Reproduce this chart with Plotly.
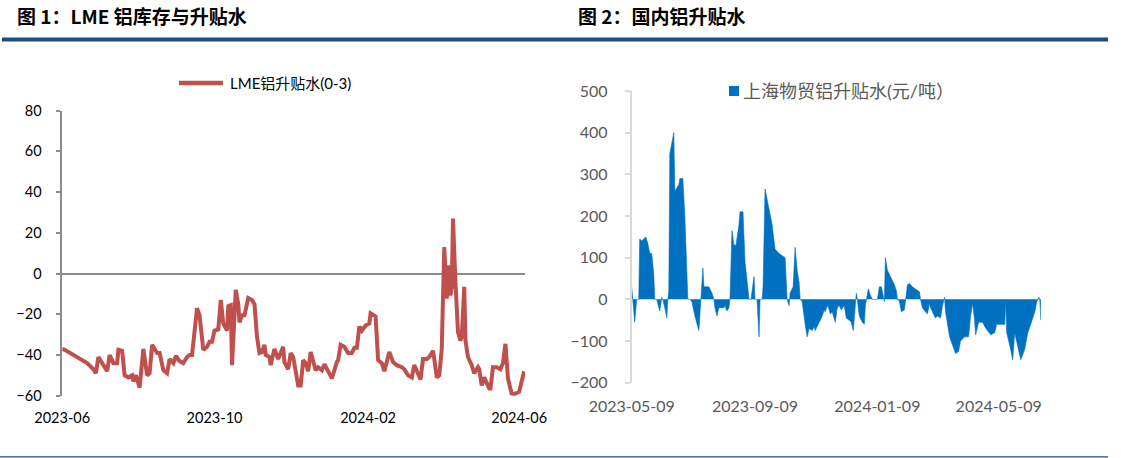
import plotly.graph_objects as go

W, H = 1121, 458

# ---------------- data: LME aluminium premium / discount (0-3) ----------------
lme_dates = [
    "2023-06-01", "2023-06-03", "2023-06-21", "2023-06-23", "2023-06-26", "2023-06-28", "2023-06-30",
    "2023-07-03", "2023-07-07", "2023-07-09", "2023-07-12", "2023-07-15", "2023-07-16", "2023-07-19",
    "2023-07-21", "2023-07-24", "2023-07-27", "2023-07-28", "2023-07-30",
    "2023-08-02", "2023-08-05", "2023-08-08", "2023-08-10", "2023-08-12", "2023-08-14", "2023-08-16",
    "2023-08-18", "2023-08-21", "2023-08-24", "2023-08-26", "2023-08-29", "2023-08-31",
    "2023-09-03", "2023-09-06", "2023-09-09", "2023-09-11", "2023-09-13", "2023-09-17", "2023-09-19",
    "2023-09-22", "2023-09-25", "2023-09-27", "2023-09-29",
    "2023-10-01", "2023-10-04", "2023-10-06", "2023-10-08", "2023-10-11", "2023-10-12", "2023-10-14",
    "2023-10-15", "2023-10-17", "2023-10-18", "2023-10-20", "2023-10-21", "2023-10-23", "2023-10-25",
    "2023-10-28", "2023-10-31",
    "2023-11-02", "2023-11-04", "2023-11-06", "2023-11-08", "2023-11-10", "2023-11-11", "2023-11-14",
    "2023-11-15", "2023-11-18", "2023-11-21", "2023-11-25", "2023-11-26", "2023-11-29",
    "2023-12-01", "2023-12-03", "2023-12-05", "2023-12-07", "2023-12-09", "2023-12-11", "2023-12-13",
    "2023-12-15", "2023-12-17", "2023-12-19", "2023-12-21", "2023-12-23", "2023-12-26", "2023-12-28",
    "2023-12-31",
    "2024-01-03", "2024-01-07", "2024-01-08", "2024-01-10", "2024-01-13", "2024-01-16", "2024-01-19",
    "2024-01-21", "2024-01-23", "2024-01-25", "2024-01-27", "2024-01-30",
    "2024-02-02", "2024-02-03", "2024-02-06", "2024-02-07", "2024-02-09", "2024-02-12", "2024-02-14",
    "2024-02-18", "2024-02-21", "2024-02-24", "2024-02-28",
    "2024-03-01", "2024-03-04", "2024-03-07", "2024-03-09", "2024-03-12", "2024-03-14", "2024-03-16",
    "2024-03-19", "2024-03-21", "2024-03-24", "2024-03-25", "2024-03-27", "2024-03-29", "2024-03-31",
    "2024-04-02", "2024-04-04", "2024-04-06", "2024-04-07", "2024-04-08", "2024-04-09", "2024-04-11",
    "2024-04-13", "2024-04-15", "2024-04-16", "2024-04-18", "2024-04-19", "2024-04-21", "2024-04-24",
    "2024-04-26", "2024-04-29", "2024-04-30",
    "2024-05-02", "2024-05-04", "2024-05-06", "2024-05-08", "2024-05-09", "2024-05-11", "2024-05-14",
    "2024-05-17", "2024-05-19", "2024-05-21", "2024-05-23", "2024-05-26", "2024-05-28",
    "2024-06-01", "2024-06-05",
]
lme_values = [
    -37, -37.5, -44, -45, -47, -49, -41,
    -44, -48, -40, -44, -44, -37.5, -38,
    -50, -51, -50, -53, -50,
    -56, -37, -50, -49, -35, -37, -39,
    -39, -47.5, -49, -42, -44, -40.5,
    -43, -44, -41, -40, -40, -17, -20.5,
    -37.5, -36, -33.5, -33.5,
    -28, -27.5, -13, -24.5, -28, -16, -15.5,
    -45, -18, -8, -15, -24, -20.5, -20.5,
    -12, -13,
    -15, -31, -39, -38.5, -35, -40, -41,
    -45, -37, -42, -36, -43.5, -47,
    -39, -41, -49, -55, -55, -42.5, -44,
    -48, -38.5, -42.5, -47.5, -46, -47.5, -44.5,
    -48,
    -51.5, -43.5, -42.5, -35, -36, -39, -39,
    -36.5, -36.5, -26, -28, -25.5,
    -24.5, -19.5, -21, -21, -42.5, -44, -48,
    -38.5, -43.5, -45, -46,
    -47, -50, -51, -45, -49, -52, -42,
    -42, -41, -38, -42, -51, -50, -37,
    13, -12.3, 4, -10.7, -6.5, 27, -5,
    -28.7, -33, -31, -6.5, -33, -41, -45,
    -49, -46, -47,
    -55, -51, -53.5, -56.5, -56.5, -46, -46,
    -47, -44, -34.5, -51.5, -59, -59.3,
    -58, -48,
]

# ---------------- data: Shanghai Wumao aluminium premium / discount ----------------
sh_dates = [
    "2023-05-09", "2023-05-12", "2023-05-14", "2023-05-16", "2023-05-17", "2023-05-19", "2023-05-21",
    "2023-05-23", "2023-05-25", "2023-05-27", "2023-05-29", "2023-05-31",
    "2023-06-01", "2023-06-03", "2023-06-05", "2023-06-06", "2023-06-08", "2023-06-09", "2023-06-11",
    "2023-06-13", "2023-06-14", "2023-06-15", "2023-06-16", "2023-06-20", "2023-06-21", "2023-06-25",
    "2023-06-26", "2023-06-29",
    "2023-07-01", "2023-07-04", "2023-07-06", "2023-07-08", "2023-07-11", "2023-07-15", "2023-07-17",
    "2023-07-19", "2023-07-20", "2023-07-25", "2023-07-28", "2023-07-30", "2023-07-31",
    "2023-08-02", "2023-08-04", "2023-08-09", "2023-08-10", "2023-08-12", "2023-08-14", "2023-08-15",
    "2023-08-17", "2023-08-19", "2023-08-21", "2023-08-24", "2023-08-25", "2023-08-28", "2023-08-30",
    "2023-09-03", "2023-09-05", "2023-09-08", "2023-09-09", "2023-09-11", "2023-09-13", "2023-09-14",
    "2023-09-16", "2023-09-17", "2023-09-19", "2023-09-21", "2023-09-24", "2023-09-26", "2023-09-29",
    "2023-10-03", "2023-10-09", "2023-10-11", "2023-10-13", "2023-10-14", "2023-10-17", "2023-10-19",
    "2023-10-21", "2023-10-23", "2023-10-24", "2023-10-26", "2023-10-29", "2023-10-31",
    "2023-11-02", "2023-11-05", "2023-11-07", "2023-11-08", "2023-11-12", "2023-11-15", "2023-11-17",
    "2023-11-18", "2023-11-20", "2023-11-22", "2023-11-23", "2023-11-25", "2023-11-28", "2023-11-30",
    "2023-12-02", "2023-12-04", "2023-12-07", "2023-12-09", "2023-12-12", "2023-12-14", "2023-12-16",
    "2023-12-18", "2023-12-19", "2023-12-20", "2023-12-22", "2023-12-25", "2023-12-27", "2023-12-28",
    "2023-12-29", "2023-12-31",
    "2024-01-02", "2024-01-04", "2024-01-09", "2024-01-11", "2024-01-13", "2024-01-15", "2024-01-16",
    "2024-01-17", "2024-01-19", "2024-01-22", "2024-01-26", "2024-01-28", "2024-01-29", "2024-01-31",
    "2024-02-02", "2024-02-05", "2024-02-06", "2024-02-08", "2024-02-10", "2024-02-13", "2024-02-16",
    "2024-02-20", "2024-02-21", "2024-02-23", "2024-02-26", "2024-02-28",
    "2024-03-01", "2024-03-02", "2024-03-05", "2024-03-07", "2024-03-09", "2024-03-12", "2024-03-14",
    "2024-03-16", "2024-03-17", "2024-03-21", "2024-03-24", "2024-03-27", "2024-03-30",
    "2024-04-01", "2024-04-05", "2024-04-09", "2024-04-11", "2024-04-13", "2024-04-15", "2024-04-16",
    "2024-04-19", "2024-04-23", "2024-04-25", "2024-04-28",
    "2024-05-01", "2024-05-05", "2024-05-07", "2024-05-09", "2024-05-11", "2024-05-15", "2024-05-16",
    "2024-05-17", "2024-05-20", "2024-05-23", "2024-05-25", "2024-05-28", "2024-05-31",
    "2024-06-04", "2024-06-07", "2024-06-10", "2024-06-14", "2024-06-16", "2024-06-18", "2024-06-19",
    "2024-06-20",
]
sh_values = [
    30, -55, 0, 0, 145, 140, 145,
    150, 135, 110, 110, 60,
    0, 0, -20, -28, 5, 0, -20,
    -45, 0, 20, 350, 400, 260, 275,
    290, 290,
    200, 0, 0, -5, -40, -75, 0,
    75, 30, 30, 15, 0, -20,
    -40, -20, -20, -15, -28, -20, 0,
    165, 130, 130, 180, 210, 210, 90,
    0, 0, 55, 0, 0, -90, 0,
    0, 30, 265, 240, 200, 180, 120,
    110, 100, 0, -15, 15, 30, 125,
    70, 40, 0, -5, -60, -90,
    -70, -75, -65, -75, -55, -40, -25,
    -30, -15, -25, -35, -30, -55, -20,
    -15, -25, -15, -45, -50, -55, -75,
    0, 15, 0, -40, -55, -60, -15,
    0, 25,
    10, 0, 0, 30, 30, 0, -5,
    100, 70, 55, 35, 20, 0, -5,
    -30, -25, 0, 35, 38, 30, 25,
    18, 0, -20, -30, -35,
    -10, -20, -35, -45, -40, -45, -15,
    5, -30, -90, -110, -130, -125,
    -100, -90, -90, -40, -10, -50, -85,
    -55, -55, -65, -75,
    -85, -80, -60, -60, -60, -60, -5,
    -80, -110, -145, -80, -110, -145,
    -120, -80, -60, -30, -5, 5, 0,
    -50,
]

lme_tickvals = ["2023-06-01", "2023-10-01", "2024-02-01", "2024-06-01"]
lme_ticktext = ["2023-06", "2023-10", "2024-02", "2024-06"]
sh_tickvals = ["2023-05-09", "2023-09-09", "2024-01-09", "2024-05-09"]
sh_ticktext = ["2023-05-09", "2023-09-09", "2024-01-09", "2024-05-09"]

title_left = "图 1：LME 铝库存与升贴水"
title_right = "图 2：国内铝升贴水"
legend_left = "LME铝升贴水(0-3)"
legend_right = "上海物贸铝升贴水(元/吨）"

RED = "#C0504D"
BLUE = "#0070C0"
NAVY = "#1B4F7A"


def px(x):
    return x / W


def py(y):
    return 1 - y / H


fig = go.Figure()
fig.add_trace(go.Scatter(
    x=lme_dates, y=lme_values, mode="lines",
    line=dict(color=RED, width=4), xaxis="x", yaxis="y", showlegend=False,
))
fig.add_trace(go.Scatter(
    x=sh_dates, y=sh_values, mode="lines", fill="tozeroy", fillcolor=BLUE,
    line=dict(color=BLUE, width=0.6), xaxis="x2", yaxis="y2", showlegend=False,
))

tick_font_l = dict(family="Lato, 'Noto Sans CJK SC'", size=14.5, color="#000000")
tick_font_r = dict(family="Lato, 'Noto Sans CJK SC'", size=16, color="#595959")

fig.update_layout(
    template="none",
    width=W, height=H,
    margin=dict(l=0, r=0, t=0, b=0, pad=0, autoexpand=False),
    paper_bgcolor="white", plot_bgcolor="white",
    showlegend=False,
    xaxis=dict(
        domain=[px(62.2), px(525)], anchor="y", type="date", automargin=False,
        range=["2023-06-01", "2024-06-05 16:00"],
        tickmode="array", tickvals=lme_tickvals, ticktext=lme_ticktext,
        showgrid=False, showline=False, ticks="", zeroline=False,
        tickfont=tick_font_l, ticklabelstandoff=12,
    ),
    yaxis=dict(
        domain=[py(395.7), py(110.7)], anchor="x", automargin=False,
        range=[-60, 80], tickmode="linear", tick0=0, dtick=20,
        showgrid=False, showline=True, linecolor="#8C8C8C", linewidth=1.5,
        ticks="outside", ticklen=4, tickcolor="#8C8C8C", tickwidth=1.5,
        zeroline=True, zerolinecolor="#8C8C8C", zerolinewidth=1.5,
        tickfont=tick_font_l, ticklabelstandoff=12,
    ),
    xaxis2=dict(
        domain=[px(631.7), px(1041)], anchor="y2", type="date", automargin=False,
        range=["2023-05-09", "2024-06-20 05:00"],
        tickmode="array", tickvals=sh_tickvals, ticktext=sh_ticktext,
        showgrid=False, showline=False, ticks="", zeroline=False,
        tickfont=tick_font_r, ticklabelstandoff=12,
    ),
    xaxis3=dict(
        overlaying="x2", anchor="free", position=py(299.3), type="date", automargin=False,
        range=["2023-05-09", "2024-06-20 05:00"],
        tickmode="array", tickvals=sh_tickvals,
        showticklabels=False, showgrid=False, zeroline=False,
        showline=True, linecolor="#D9D9D9", linewidth=2,
        ticks="outside", ticklen=5, tickcolor="#D9D9D9", tickwidth=1.5,
        layer="above traces",
    ),
    yaxis2=dict(
        domain=[py(382.7), py(91)], anchor="x2", automargin=False,
        range=[-200, 500], tickmode="linear", tick0=0, dtick=100,
        showgrid=False, showline=True, linecolor="#D9D9D9", linewidth=2,
        ticks="outside", ticklen=5, tickcolor="#D9D9D9", tickwidth=1.5,
        zeroline=False,
        tickfont=tick_font_r, ticklabelstandoff=14,
    ),
)

title_font = dict(family="'Noto Sans CJK SC'", size=19, color="#000000", weight="bold")
fig.add_annotation(x=px(15), y=py(16), xref="paper", yref="paper", xanchor="left", yanchor="middle",
                   text=title_left, showarrow=False, font=title_font)
fig.add_annotation(x=px(576), y=py(16), xref="paper", yref="paper", xanchor="left", yanchor="middle",
                   text=title_right, showarrow=False, font=title_font)
fig.add_annotation(x=px(228), y=py(83), xref="paper", yref="paper", xanchor="left", yanchor="middle",
                   text=legend_left, showarrow=False,
                   font=dict(family="Lato, 'Noto Sans CJK SC'", size=15, color="#000000"))
fig.add_annotation(x=px(741), y=py(91), xref="paper", yref="paper", xanchor="left", yanchor="middle",
                   text=legend_right, showarrow=False,
                   font=dict(family="Lato, 'Noto Sans CJK SC'", size=18, color="#595959"))

# header bar, bottom rule, legend keys
fig.add_shape(type="rect", xref="paper", yref="paper", x0=px(2), x1=px(1108), y0=py(41.5), y1=py(37.5),
              fillcolor=NAVY, line=dict(width=0), layer="above")
fig.add_shape(type="line", xref="paper", yref="paper", x0=0, x1=px(1108), y0=py(456.8), y1=py(456.8),
              line=dict(color=NAVY, width=1.2))
fig.add_shape(type="line", xref="paper", yref="paper", x0=px(179), x1=px(223), y0=py(83), y1=py(83),
              line=dict(color=RED, width=4.5))
fig.add_shape(type="rect", xref="paper", yref="paper", x0=px(729), x1=px(739), y0=py(96), y1=py(86),
              fillcolor=BLUE, line=dict(width=0))

fig.write_html("out.html")
